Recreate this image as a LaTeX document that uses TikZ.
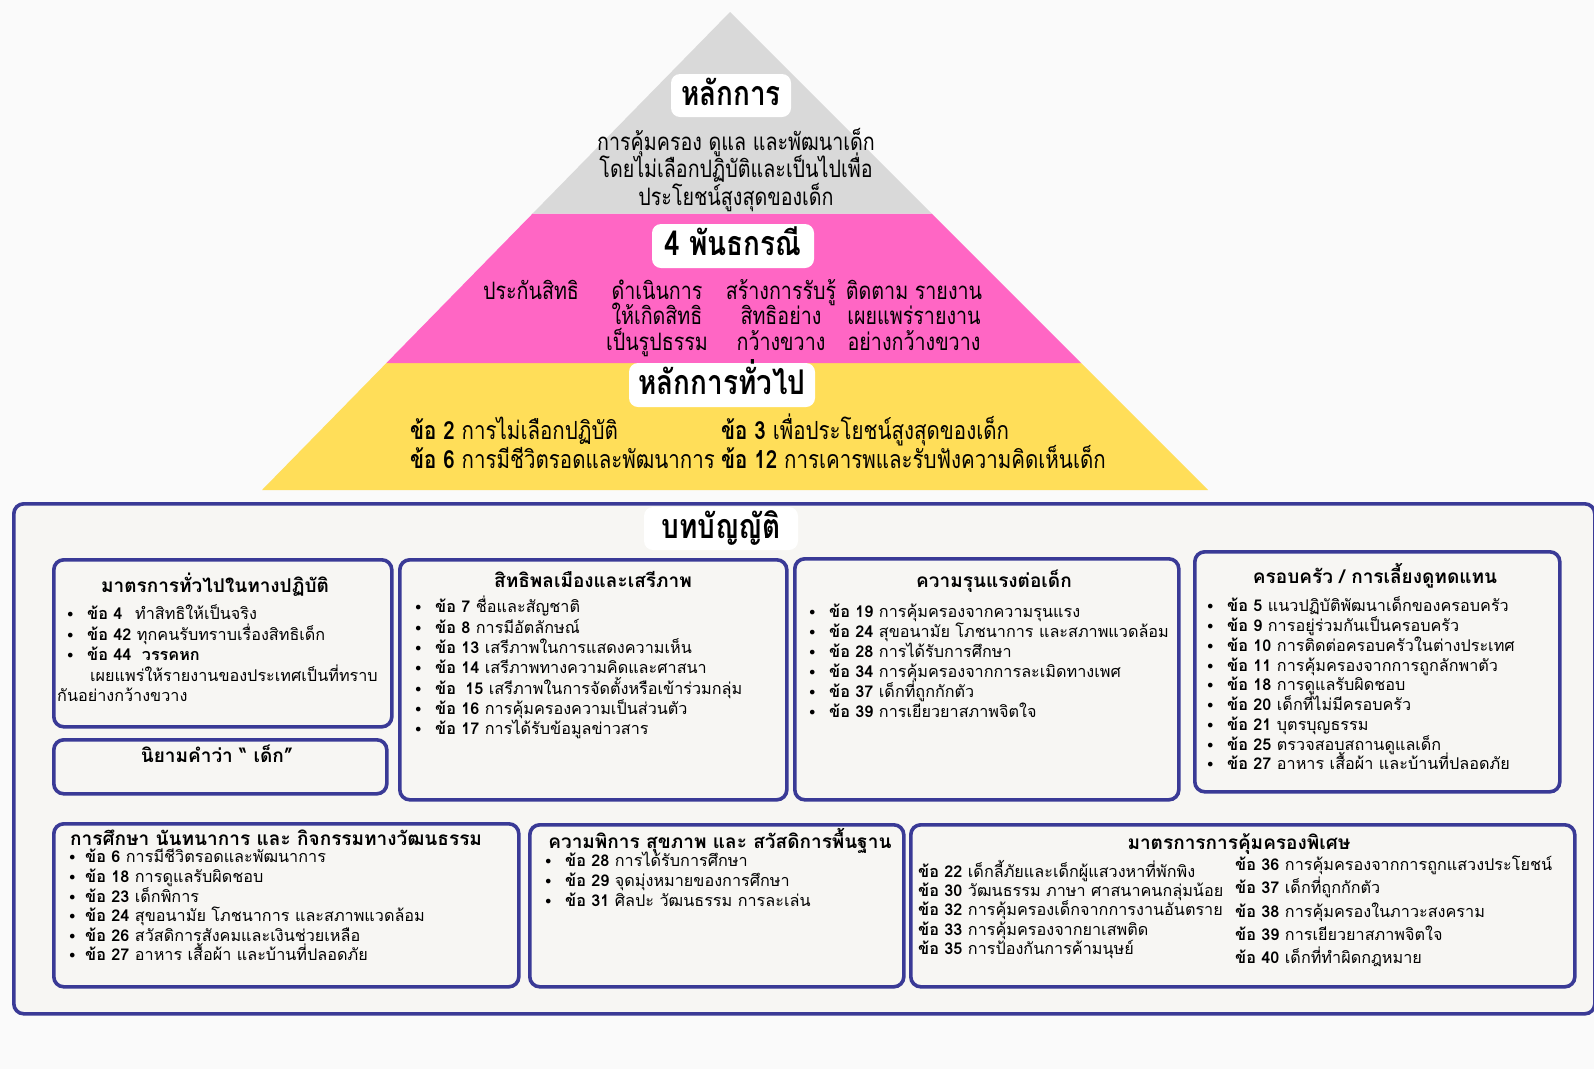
\documentclass[tikz,border=0pt]{standalone}
\usepackage{fontspec}
\setmainfont[Script=Thai]{Loma}
\newfontfamily\pyr[Script=Thai,FakeStretch=0.82]{Loma}
\newfontfamily\bulfont{DejaVu Sans}
\definecolor{pagebg}{HTML}{FAFAFA}
\definecolor{boxbg}{HTML}{F7F6F3}
\definecolor{bdr}{RGB}{58,58,150}
\definecolor{greytri}{HTML}{D9D9D9}
\definecolor{pinktri}{HTML}{FF66C4}
\definecolor{yellowtri}{HTML}{FFDE59}
\lineskiplimit=-100pt
\normallineskiplimit=-100pt
\newcommand\st{\rule{0pt}{30pt}}
\newcommand\bl[1][21.5pt]{\makebox[#1][l]{\raisebox{-1pt}{\bulfont\fontsize{16}{16}\selectfont •}}}
\newcommand\li[2]{\bl\textbf{ข้อ #1} #2}
\newcommand\lk[2]{\bl[17.5pt]\textbf{ข้อ #1} #2}
\newcommand\lj[2]{\textbf{ข้อ #1} #2}
\tikzset{
  bx/.style={draw=bdr, line width=3.6pt, rounded corners=10pt, fill=boxbg, anchor=north west, inner sep=0pt},
  lab/.style={fill=white, rounded corners=9pt, inner sep=0pt, font=\pyr\bfseries\fontsize{34}{34}\selectfont, text height=20.5pt, text depth=1.5pt},
  ttl/.style={anchor=base, inner sep=0pt, font=\bfseries\fontsize{19}{22}\selectfont},
  lst/.style={anchor=north west, align=left, inner sep=0pt, font=\fontsize{16.2}{#1}\selectfont},
  ptx/.style={anchor=north, align=center, inner sep=0pt, font=\pyr\fontsize{24}{#1}\selectfont},
  ytx/.style={anchor=north west, align=left, inner sep=0pt, font=\pyr\fontsize{25}{29}\selectfont},
}
\begin{document}
\begin{tikzpicture}[x=1pt,y=-1pt]
\useasboundingbox (0,0) rectangle (1594,1069);
\fill[pagebg] (0,0) rectangle (1594,1069);
% pyramid
\fill[yellowtri] (386.4,363) -- (1081,363) -- (1208,490) -- (262,490) -- cycle;
\fill[pinktri] (532.7,213.5) -- (931.5,213.5) -- (1081,363) -- (386.4,363) -- cycle;
\fill[greytri] (730,12) -- (931.5,213.5) -- (532.7,213.5) -- cycle;
\node[lab, minimum width=120pt, minimum height=43pt] (l1) at (731,95.5) {หลักการ};
\node[ptx=27.5] (g1) at (736,120) {\st การคุ้มครอง ดูแล และพัฒนาเด็ก\\โดยไม่เลือกปฏิบัติและเป็นไปเพื่อ\\ประโยชน์สูงสุดของเด็ก};
\node[lab, minimum width=162pt, minimum height=44pt] (l2) at (733,246) {4 พันธกรณี};
\node[ptx=25.5] (p1) at (531,269) {\st ประกันสิทธิ};
\node[ptx=25.5] (p2) at (657,269) {\st ดำเนินการ\\ให้เกิดสิทธิ\\เป็นรูปธรรม};
\node[ptx=25.5] (p3) at (781,269) {\st สร้างการรับรู้\\สิทธิอย่าง\\กว้างขวาง};
\node[ptx=25.5] (p4) at (914,269) {\st ติดตาม รายงาน\\เผยแพร่รายงาน\\อย่างกว้างขวาง};
\node[lab, minimum width=186pt, minimum height=44pt] (l3) at (722,385) {หลักการทั่วไป};
\node[ytx] (y1) at (410,409) {\st\textbf{ข้อ 2} การไม่เลือกปฏิบัติ\\\textbf{ข้อ 6} การมีชีวิตรอดและพัฒนาการ};
\node[ytx] (y2) at (721,409) {\st\textbf{ข้อ 3} เพื่อประโยชน์สูงสุดของเด็ก\\\textbf{ข้อ 12} การเคารพและรับฟังความคิดเห็นเด็ก};
% provisions
\node[bx, minimum width=1581pt, minimum height=510pt] (prov) at (12,502) {};
\node[lab, minimum width=154pt, minimum height=43pt] (l4) at (721,528.5) {บทบัญญัติ};
% row 1
\node[bx, minimum width=338pt, minimum height=167pt] (b1) at (52,558) {};
\node[ttl] (b1t) at (215,592) {มาตรการทั่วไปในทางปฏิบัติ};
\node[lst=20.5] (b1l) at (57,589.6) {\st\hspace*{8.5pt}\bl\makebox[48pt][l]{\textbf{ข้อ 4}}ทำสิทธิให้เป็นจริง\\
\hspace*{8.5pt}\bl\textbf{ข้อ 42} ทุกคนรับทราบเรื่องสิทธิเด็ก\\
\hspace*{8.5pt}\bl\textbf{ข้อ 44\hspace{5pt} วรรคหก}\\
\hspace*{33pt}เผยแพร่ให้รายงานของประเทศเป็นที่ทราบ\\
กันอย่างกว้างขวาง};
\node[bx, minimum width=333pt, minimum height=54pt] (b1n) at (52,738) {};
\node[ttl] (b1nt) at (217,762) {นิยามคำว่า “ เด็ก”};
\node[bx, minimum width=387pt, minimum height=240pt] (b2) at (398,558) {};
\node[ttl] (b2t) at (593,587) {สิทธิพลเมืองและเสรีภาพ};
\node[lst=20.3] (b2l) at (413.5,582.6) {\st\li{7}{ชื่อและสัญชาติ}\\
\li{8}{การมีอัตลักษณ์}\\
\li{13}{เสรีภาพในการแสดงความเห็น}\\
\li{14}{เสรีภาพทางความคิดและศาสนา}\\
\li{\hspace{4pt}15}{เสรีภาพในการจัดตั้งหรือเข้าร่วมกลุ่ม}\\
\li{16}{การคุ้มครองความเป็นส่วนตัว}\\
\li{17}{การได้รับข้อมูลข่าวสาร}};
\node[bx, minimum width=384pt, minimum height=241pt] (b3) at (793,557) {};
\node[ttl] (b3t) at (994,587) {ความรุนแรงต่อเด็ก};
\node[lst=20] (b3l) at (807.5,587) {\st\li{19}{การคุ้มครองจากความรุนแรง}\\
\li{24}{สุขอนามัย โภชนาการ และสภาพแวดล้อม}\\
\li{28}{การได้รับการศึกษา}\\
\li{34}{การคุ้มครองจากการละเมิดทางเพศ}\\
\li{37}{เด็กที่ถูกกักตัว}\\
\li{39}{การเยียวยาสภาพจิตใจ}};
\node[bx, minimum width=365pt, minimum height=240pt] (b4) at (1193,550) {};
\node[ttl] (b4t) at (1375,583) {ครอบครัว / การเลี้ยงดูทดแทน};
\node[lst=19.75] (b4l) at (1205.5,581.6) {\st\li{5}{แนวปฏิบัติพัฒนาเด็กของครอบครัว}\\
\li{9}{การอยู่ร่วมกันเป็นครอบครัว}\\
\li{10}{การติดต่อครอบครัวในต่างประเทศ}\\
\li{11}{การคุ้มครองจากการถูกลักพาตัว}\\
\li{18}{การดูแลรับผิดชอบ}\\
\li{20}{เด็กที่ไม่มีครอบครัว}\\
\li{21}{บุตรบุญธรรม}\\
\li{25}{ตรวจสอบสถานดูแลเด็ก}\\
\li{27}{อาหาร เสื้อผ้า และบ้านที่ปลอดภัย}};
% row 2
\node[bx, minimum width=465pt, minimum height=163pt] (bA) at (52,822) {};
\node[ttl, anchor=base west] (bAt) at (70,845) {การศึกษา นันทนาการ และ กิจกรรมทางวัฒนธรรม};
\node[lst=19.6] (bAl) at (67.5,832.6) {\st\lk{6}{การมีชีวิตรอดและพัฒนาการ}\\
\lk{18}{การดูแลรับผิดชอบ}\\
\lk{23}{เด็กพิการ}\\
\lk{24}{สุขอนามัย โภชนาการ และสภาพแวดล้อม}\\
\lk{26}{สวัสดิการสังคมและเงินช่วยเหลือ}\\
\lk{27}{อาหาร เสื้อผ้า และบ้านที่ปลอดภัย}};
\node[bx, minimum width=374pt, minimum height=162pt] (bB) at (528,823) {};
\node[ttl] (bBt) at (720,848) {ความพิการ สุขภาพ และ สวัสดิการพื้นฐาน};
\node[lst=20] (bBl) at (543.5,836.6) {\st\li{28}{การได้รับการศึกษา}\\
\li{29}{จุดมุ่งหมายของการศึกษา}\\
\li{31}{ศิลปะ วัฒนธรรม การละเล่น}};
\node[bx, minimum width=664pt, minimum height=162pt] (bC) at (909,823) {};
\node[ttl] (bCt) at (1239,849) {มาตรการการคุ้มครองพิเศษ};
\node[lst=19.2] (bCl) at (918,847.2) {\st\lj{22}{เด็กลี้ภัยและเด็กผู้แสวงหาที่พักพิง}\\
\lj{30}{วัฒนธรรม ภาษา ศาสนาคนกลุ่มน้อย}\\
\lj{32}{การคุ้มครองเด็กจากการงานอันตราย}\\
\lj{33}{การคุ้มครองจากยาเสพติด}\\
\lj{35}{การป้องกันการค้ามนุษย์}};
\node[lst=23.1] (bCr) at (1235,840.6) {\st\lj{36}{การคุ้มครองจากการถูกแสวงประโยชน์}\\
\lj{37}{เด็กที่ถูกกักตัว}\\
\lj{38}{การคุ้มครองในภาวะสงคราม}\\
\lj{39}{การเยียวยาสภาพจิตใจ}\\
\lj{40}{เด็กที่ทำผิดกฎหมาย}};
\end{tikzpicture}
\end{document}
